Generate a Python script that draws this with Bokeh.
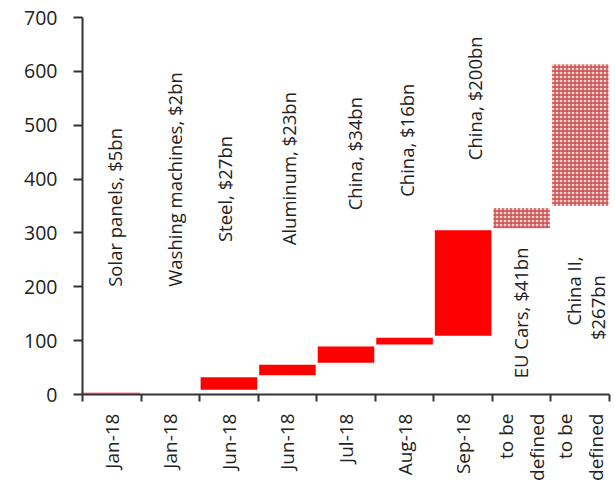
import math
from bokeh.plotting import figure
from bokeh.models import ColumnDataSource, FixedTicker, Range1d
from bokeh.core.properties import value
from bokeh.embed import file_html
from bokeh.resources import INLINE

# ---- data ----
months = ["Jan-18", "Jan-18", "Jun-18", "Jun-18", "Jul-18", "Aug-18", "Sep-18",
          "to be\ndefined", "to be\ndefined"]
notes = ["Solar panels, $5bn", "Washing machines, $2bn", "Steel, $27bn",
         "Aluminum, $23bn", "China, $34bn", "China, $16bn", "China, $200bn",
         "EU Cars, $41bn", "China II,\n$267bn"]
tariffs_bn = [5, 2, 27, 23, 34, 16, 200, 41, 267]
status = ["imposed"] * 7 + ["to be defined"] * 2

# note placement (start value of rotated text, pixel nudge)
note_start = [200, 200, 283, 277, 342, 367, 435, 30, [128, 101]]
note_nudge = [3, 4, -4, 1, 8, 2, 11, -1, [-7, 17]]

# ---- derived waterfall ----
idx = list(range(len(tariffs_bn)))
bottoms, tops = [], []
run = 0
for v in tariffs_bn:
    bottoms.append(run)
    run += v
    tops.append(run)

imp = [i for i in idx if status[i] == "imposed"]
pro = [i for i in idx if status[i] != "imposed"]
src_imp = ColumnDataSource(dict(x=imp, b=[bottoms[i] for i in imp], t=[tops[i] for i in imp]))
src_pro = ColumnDataSource(dict(x=pro, b=[bottoms[i] for i in pro], t=[tops[i] for i in pro]))

nx, ny, nt, nd = [], [], [], []
for i, txt in enumerate(notes):
    lines = txt.split("\n")
    ys = note_start[i] if isinstance(note_start[i], list) else [note_start[i]]
    ds = note_nudge[i] if isinstance(note_nudge[i], list) else [note_nudge[i]]
    for ln, yy, dd in zip(lines, ys, ds):
        nx.append(i)
        ny.append(yy)
        nt.append(ln)
        nd.append(dd)
src_notes = ColumnDataSource(dict(x=nx, y=ny, text=nt, dx=nd))

FONT = "Open Sans"

# ---- figure ----
p = figure(width=615, height=485, output_backend="svg", toolbar_location=None,
           x_range=Range1d(-0.5, len(idx) - 0.5), y_range=Range1d(0, 700),
           min_border_left=82, min_border_right=6, min_border_top=17, min_border_bottom=91)
p.outline_line_color = None
p.grid.visible = False
p.background_fill_color = "white"
p.border_fill_color = "white"

p.vbar(x="x", bottom="b", top="t", width=1.0, source=src_imp,
       fill_color="#ff0000", line_color="white", line_width=2)
p.vbar(x="x", bottom="b", top="t", width=1.0, source=src_pro,
       fill_color="#f4d2d2", hatch_pattern="cross", hatch_scale=4, hatch_weight=1.3,
       hatch_color="#c94a4a", line_color="white", line_width=2)

p.text(x="x", y="y", text="text", x_offset="dx", source=src_notes, angle=math.pi / 2,
       text_align="left", text_baseline="middle", text_font=value(FONT),
       text_font_size="18.5px", text_color="#222222")

# axes
ax_col = "#333333"
yax = p.yaxis[0]
yax.ticker = FixedTicker(ticks=list(range(0, 701, 100)))
yax.axis_line_color = ax_col
yax.axis_line_width = 2
yax.major_tick_line_color = ax_col
yax.major_tick_line_width = 2
yax.major_tick_out = 9
yax.major_tick_in = 0
yax.minor_tick_line_color = None
yax.major_label_standoff = 16
yax.major_label_text_font = FONT
yax.major_label_text_font_size = "19.5px"
yax.major_label_text_color = "#222222"

xax = p.xaxis[0]
xax.ticker = FixedTicker(ticks=idx, minor_ticks=[i - 0.5 for i in range(len(idx) + 1)])
xax.major_label_overrides = {i: months[i] for i in idx}
xax.major_label_orientation = math.pi / 2
xax.axis_line_color = ax_col
xax.axis_line_width = 2
xax.major_tick_line_color = None
xax.major_tick_out = 0
xax.major_tick_in = 0
xax.minor_tick_line_color = ax_col
xax.minor_tick_line_width = 2
xax.minor_tick_out = 7
xax.minor_tick_in = 0
xax.major_label_standoff = 12
xax.major_label_text_font = FONT
xax.major_label_text_font_size = "19px"
xax.major_label_text_color = "#222222"

open("out.html", "w").write(file_html(p, INLINE))
